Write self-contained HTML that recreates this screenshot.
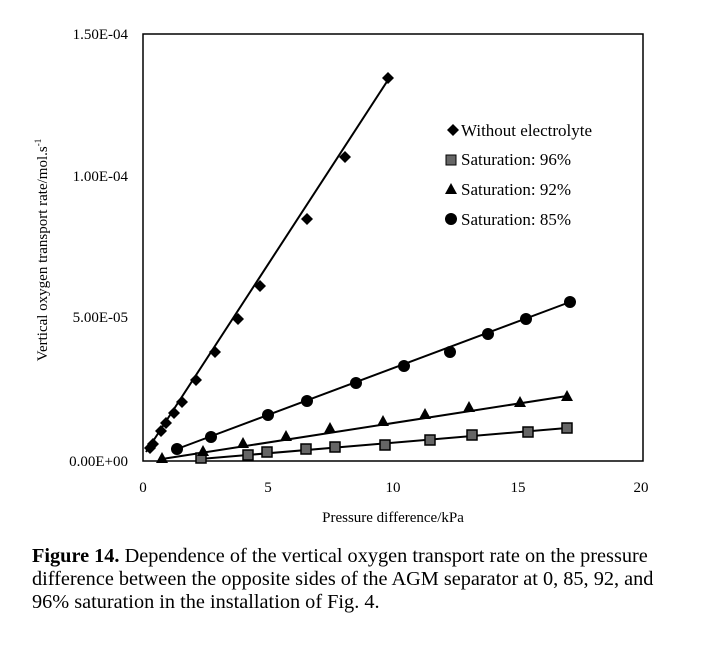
<!DOCTYPE html><html><head><style>body{margin:0;background:#fff;width:722px;height:646px;overflow:hidden;position:relative;font-family:"Liberation Serif",serif}
.cap{position:absolute;left:32px;font-size:20.3px;color:#000;white-space:nowrap}</style></head><body>
<svg width="722" height="646" style="position:absolute;left:0;top:0" font-family="Liberation Serif, serif">
<rect x="143" y="34" width="500" height="427" fill="none" stroke="#000" stroke-width="1.5"/>
<g font-size="15" text-anchor="end"><text x="128" y="39">1.50E-04</text><text x="128" y="181">1.00E-04</text><text x="128" y="322">5.00E-05</text><text x="128" y="466">0.00E+00</text></g>
<g font-size="15" text-anchor="middle"><text x="143" y="492">0</text><text x="268" y="492">5</text><text x="393" y="492">10</text><text x="518" y="492">15</text><text x="641" y="492">20</text></g>
<text x="393" y="522" font-size="15" text-anchor="middle">Pressure difference/kPa</text>
<text transform="translate(47,250) rotate(-90)" font-size="15" text-anchor="middle">Vertical oxygen transport rate/mol.s<tspan dy="-6" font-size="9">-1</tspan></text>
<g stroke="#000" stroke-width="2">
<line x1="146" y1="452" x2="388" y2="80"/><line x1="200" y1="459" x2="567" y2="428"/><line x1="162" y1="459" x2="567" y2="396"/><line x1="177" y1="449" x2="570" y2="302"/></g>
<g fill="#000">
<path d="M150 442l6 6-6 6-6-6z"/><path d="M153 438l6 6-6 6-6-6z"/><path d="M161 425l6 6-6 6-6-6z"/><path d="M166 417l6 6-6 6-6-6z"/><path d="M174 407l6 6-6 6-6-6z"/><path d="M182 396l6 6-6 6-6-6z"/><path d="M196 374l6 6-6 6-6-6z"/><path d="M215 346l6 6-6 6-6-6z"/><path d="M238 313l6 6-6 6-6-6z"/><path d="M260 280l6 6-6 6-6-6z"/><path d="M307 213l6 6-6 6-6-6z"/><path d="M345 151l6 6-6 6-6-6z"/><path d="M388 72l6 6-6 6-6-6z"/>
<g fill="#666" stroke="#000" stroke-width="1.5">
<rect x="196" y="453" width="10" height="10"/><rect x="243" y="450" width="10" height="10"/><rect x="262" y="447" width="10" height="10"/><rect x="301" y="444" width="10" height="10"/><rect x="330" y="442" width="10" height="10"/><rect x="380" y="440" width="10" height="10"/><rect x="425" y="435" width="10" height="10"/><rect x="467" y="430" width="10" height="10"/><rect x="523" y="427" width="10" height="10"/><rect x="562" y="423" width="10" height="10"/></g>
<path d="M162 452l6 11h-12z"/><path d="M203 445l6 11h-12z"/><path d="M243 437l6 11h-12z"/><path d="M286 430l6 11h-12z"/><path d="M330 422l6 11h-12z"/><path d="M383 415l6 11h-12z"/><path d="M425 408l6 11h-12z"/><path d="M469 401l6 11h-12z"/><path d="M520 396l6 11h-12z"/><path d="M567 390l6 11h-12z"/>
<circle cx="177" cy="449" r="6"/><circle cx="211" cy="437" r="6"/><circle cx="268" cy="415" r="6"/><circle cx="307" cy="401" r="6"/><circle cx="356" cy="383" r="6"/><circle cx="404" cy="366" r="6"/><circle cx="450" cy="352" r="6"/><circle cx="488" cy="334" r="6"/><circle cx="526" cy="319" r="6"/><circle cx="570" cy="302" r="6"/>
<path d="M453 124l6 6-6 6-6-6z"/><rect x="446" y="155" width="10" height="10" fill="#666" stroke="#000"/><path d="M451 183l6 11h-12z"/><circle cx="451" cy="219" r="6"/>
</g>
<g font-size="17"><text x="461" y="136">Without electrolyte</text><text x="461" y="165">Saturation: 96%</text><text x="461" y="195">Saturation: 92%</text><text x="461" y="225">Saturation: 85%</text></g>
</svg>
<div class="cap" style="top:545px"><b>Figure 14.</b> Dependence of the vertical oxygen transport rate on the pressure</div>
<div class="cap" style="top:568px">difference between the opposite sides of the AGM separator at 0, 85, 92, and</div>
<div class="cap" style="top:591px">96% saturation in the installation of Fig. 4.</div>
</body></html>
